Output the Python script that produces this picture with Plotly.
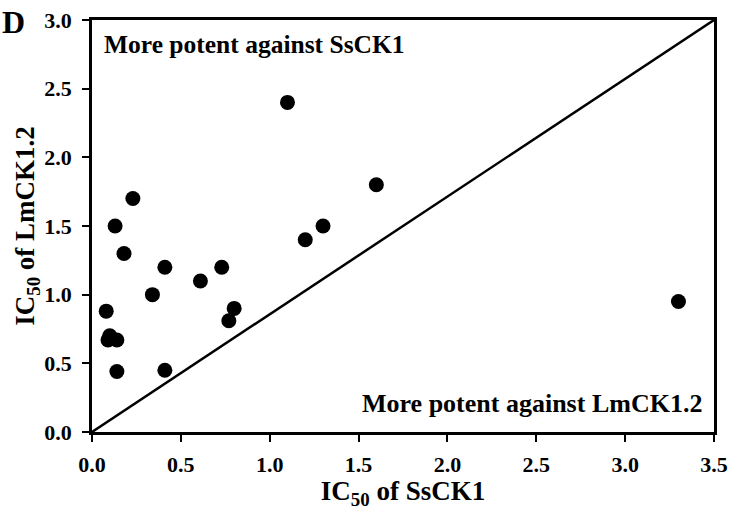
import plotly.graph_objects as go

# IC50 values
ic50_ssck1 = [1.10, 1.60, 1.30, 1.20, 0.23, 0.13, 0.18, 0.41, 0.73, 0.61,
              0.34, 0.08, 0.80, 0.77, 0.10, 0.09, 0.14, 0.14, 0.41, 3.30]
ic50_lmck12 = [2.40, 1.80, 1.50, 1.40, 1.70, 1.50, 1.30, 1.20, 1.20, 1.10,
               1.00, 0.88, 0.90, 0.81, 0.70, 0.67, 0.67, 0.44, 0.45, 0.95]

x_ticks = [0.0, 0.5, 1.0, 1.5, 2.0, 2.5, 3.0, 3.5]
y_ticks = [0.0, 0.5, 1.0, 1.5, 2.0, 2.5, 3.0]
x_range = [0, 3.5]
y_range = [0, 3.0]

FONT = "Liberation Serif"

fig = go.Figure()

# diagonal reference line (corner to corner)
fig.add_trace(go.Scatter(
    x=x_range, y=y_range, mode="lines",
    line=dict(color="black", width=2.5),
    hoverinfo="skip", showlegend=False,
))

fig.add_trace(go.Scatter(
    x=ic50_ssck1, y=ic50_lmck12, mode="markers",
    marker=dict(color="black", size=15, line=dict(width=0)),
    showlegend=False,
))

axis_common = dict(
    showline=True, linecolor="black", linewidth=2.5, mirror=True,
    ticks="outside", ticklen=7, tickwidth=2, tickcolor="black",
    showgrid=False, zeroline=False, automargin=False,
    ticklabeloverflow="allow",
    tickfont=dict(family=FONT, size=22, color="black", weight="bold"),
)

fig.update_xaxes(
    range=x_range, tickvals=x_ticks,
    ticktext=[f"{v:.1f}" for v in x_ticks],
    title=dict(text="<b>IC<sub>50</sub> of SsCK1</b>",
               font=dict(family=FONT, size=27, color="black"), standoff=6),
    ticklabelstandoff=4,
    **axis_common,
)
fig.update_yaxes(
    range=y_range, tickvals=y_ticks,
    ticktext=[f"{v:.1f}" for v in y_ticks],
    title=dict(text="<b>IC<sub>50</sub> of LmCK1.2</b>",
               font=dict(family=FONT, size=27, color="black"), standoff=2),
    ticklabelstandoff=6,
    **axis_common,
)

fig.add_annotation(
    text="<b>More potent against SsCK1</b>", xref="paper", yref="paper",
    x=0.016, y=0.941, xanchor="left", yanchor="middle", showarrow=False,
    font=dict(family=FONT, size=25.5, color="black"),
)
fig.add_annotation(
    text="<b>More potent against LmCK1.2</b>", xref="paper", yref="paper",
    x=0.984, y=0.068, xanchor="right", yanchor="middle", showarrow=False,
    font=dict(family=FONT, size=26, color="black"),
)
fig.add_annotation(
    text="<b>D</b>", xref="paper", yref="paper",
    x=-0.148, y=0.995, xanchor="left", yanchor="middle", showarrow=False,
    font=dict(family=FONT, size=32, color="black"),
)

fig.update_layout(
    width=735, height=510,
    margin=dict(l=92, r=21, t=20, b=78),
    plot_bgcolor="white", paper_bgcolor="white",
)

fig.write_html("out.html", config={"displayModeBar": False},
               post_script="document.body.style.margin='0';document.body.style.overflow='hidden';")
